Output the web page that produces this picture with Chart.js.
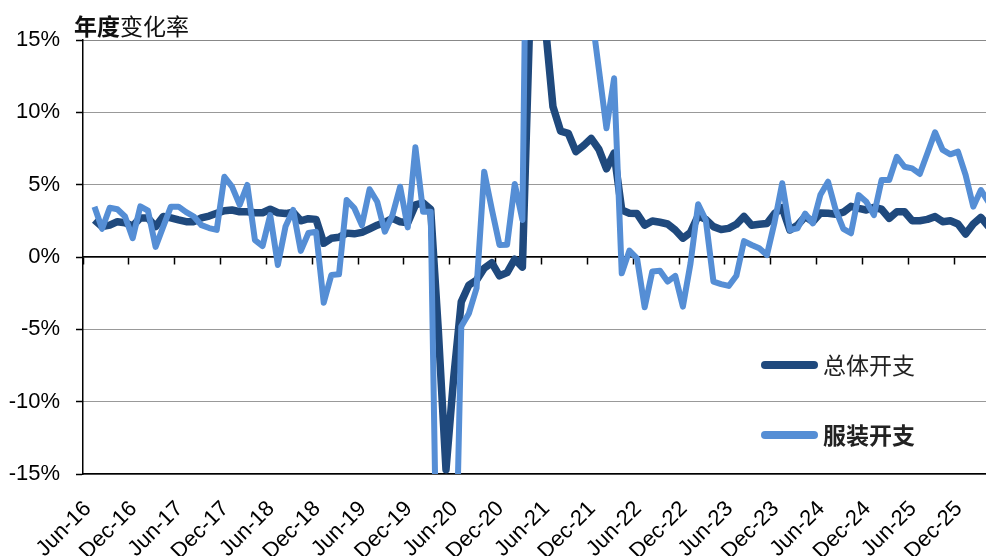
<!DOCTYPE html>
<html>
<head>
<meta charset="utf-8">
<script src="https://cdn.jsdelivr.net/npm/chart.js@4.4.1/dist/chart.umd.min.js"></script>
<style>
html, body { margin: 0; padding: 0; overflow: hidden; background: #fff; }
#grafica { display: block; width: 1000px; height: 556px; }
</style>
</head>
<body>
<canvas id="grafica" width="1000" height="556"></canvas>
<script>
// meses desde Jun-16 (120 categorias)
const nombresMes = ['Jan','Feb','Mar','Apr','May','Jun','Jul','Aug','Sep','Oct','Nov','Dec'];
const meses = [];
for (let i = 0; i < 120; i++) {
    const t = 5 + i;
    meses.push(nombresMes[t % 12] + '-' + (16 + Math.floor(t / 12)));
}

// 总体开支 (variacion anual, %)
const gastoTotal = [
    null, 2.56, 2.1, 2.2, 2.44, 2.37, 2.14, 2.7, 2.7, 2.1, 2.8, 2.7,
    2.56, 2.44, 2.44, 2.7, 2.83, 3.02, 3.2, 3.25, 3.13, 3.13, 3.06, 3.06,
    3.3, 3.06, 3.0, 3.1, 2.5, 2.65, 2.6, 0.95, 1.29, 1.36, 1.65, 1.6,
    1.7, 1.95, 2.2, 2.4, 2.67, 2.44, 2.37, 3.6, 3.75, 3.3, -5.1, -14.7,
    -8.4, -3.1, -1.94, -1.6, -0.78, -0.4, -1.3, -1.08, -0.15, -0.7, 17, 22,
    16, 10.4, 8.7, 8.55, 7.28, 7.7, 8.2, 7.45, 6.1, 7.17, 3.25, 3.03,
    3.0, 2.2, 2.49, 2.4, 2.28, 1.87, 1.3, 1.7, 2.85, 2.6, 2.1, 1.9,
    1.98, 2.26, 2.8, 2.2, 2.26, 2.32, 3.0, 3.4, 1.87, 2.2, 2.8, 2.44,
    3.04, 3.02, 2.95, 3.1, 3.5, 3.36, 3.25, 3.43, 3.3, 2.67, 3.13, 3.13,
    2.51, 2.51, 2.6, 2.79, 2.44, 2.51, 2.28, 1.59, 2.28, 2.74, 2.1, null
];

// 服装开支 (variacion anual, %)
const gastoRopa = [
    null, 3.48, 1.95, 3.4, 3.3, 2.8, 1.3, 3.5, 3.2, 0.7, 2.1, 3.48,
    3.48, 3.1, 2.8, 2.2, 2.0, 1.87, 5.55, 4.86, 3.6, 4.98, 1.17, 0.76,
    2.9, -0.55, 2.1, 3.25, 0.42, 1.66, 1.75, -3.16, -1.24, -1.2, 3.94, 3.39,
    2.2, 4.68, 3.82, 1.75, 2.9, 4.86, 2.05, 7.58, 3.13, 3.13, -29, -35,
    -29, -4.8, -3.9, -2.16, 5.9, 3.3, 0.83, 0.85, 5.05, 2.56, 45, 40,
    32, 27, 24, 22, 21, 20, 17.1, 13.0, 8.9, 12.35, -1.13, 0.44,
    -0.09, -3.48, -1.0, -0.95, -1.7, -1.3, -3.43, -0.44, 3.65, 2.56, -1.7, -1.87,
    -2.0, -1.3, 1.1, 0.83, 0.6, 0.14, 2.4, 5.1, 1.87, 1.98, 3.0, 2.32,
    4.3, 5.2, 3.25, 1.95, 1.64, 4.28, 3.82, 2.9, 5.32, 5.32, 6.93, 6.24,
    6.13, 5.74, 7.17, 8.62, 7.4, 7.1, 7.28, 5.67, 3.48, 4.63, 3.8, null
];

const fuente = '"Liberation Sans", Arial, sans-serif';
const fuenteCJK = '"Noto Sans CJK SC", sans-serif';

const leyendaInterna = {
    id: 'leyendaInterna',
    afterDraw(chart, args, opts) {
        const ctx = chart.ctx;
        ctx.save();
        chart.data.datasets.forEach((ds, i) => {
            const y = opts.filas[i];
            ctx.strokeStyle = ds.borderColor;
            ctx.lineWidth = 8;
            ctx.lineCap = 'round';
            ctx.beginPath();
            ctx.moveTo(opts.x + 4, y);
            ctx.lineTo(opts.x + 53, y);
            ctx.stroke();
            ctx.font = opts.pesos[i] + ' 23px ' + fuenteCJK;
            ctx.fillStyle = '#222';
            ctx.textBaseline = 'middle';
            ctx.textAlign = 'left';
            ctx.fillText(ds.label, opts.x + 62, y);
        });
        // titulo del eje
        ctx.font = 'bold 23px ' + fuenteCJK;
        ctx.fillStyle = '#111';
        ctx.textBaseline = 'middle';
        ctx.fillText('年度', 74, 26);
        const w = ctx.measureText('年度').width;
        ctx.font = 'normal 23px ' + fuenteCJK;
        ctx.fillText('变化率', 74 + w, 26);
        ctx.restore();
    }
};

const canvas = document.getElementById('grafica');
const context = canvas.getContext('2d');

const grafica = new Chart(context, {
    type: 'line',
    data: {
        labels: meses,
        datasets: [
            {
                label: '总体开支',
                data: gastoTotal,
                borderColor: '#1F497D',
                borderWidth: 7.5,
                order: 1
            },
            {
                label: '服装开支',
                data: gastoRopa,
                borderColor: '#558ED5',
                borderWidth: 6,
                order: 0
            }
        ]
    },
    options: {
        responsive: false,
        animation: false,
        layout: { padding: { top: 40, right: 0, bottom: 0, left: 0 } },
        elements: {
            point: { radius: 0 },
            line: { tension: 0, borderJoinStyle: 'round', borderCapStyle: 'butt' }
        },
        datasets: { line: { clip: 0, spanGaps: false } },
        plugins: {
            legend: { display: false },
            tooltip: { enabled: false },
            leyendaInterna: { x: 761, filas: [365, 435], pesos: ['normal', 'bold'] }
        },
        scales: {
            x: {
                type: 'category',
                offset: true,
                grid: { display: false },
                border: { display: true, color: '#000', width: 1.5 },
                ticks: {
                    autoSkip: false,
                    minRotation: 45,
                    maxRotation: 45,
                    padding: 14,
                    labelOffset: 1,
                    color: '#000',
                    font: { family: fuente, size: 22 },
                    callback: function (v, i) { return i % 6 === 0 ? this.getLabelForValue(v) : ''; }
                },
                afterFit: s => { s.height = 82; s.paddingLeft = 0; s.paddingRight = 0; }
            },
            x2: {
                type: 'category',
                position: { y: 0 },
                offset: true,
                grid: {
                    drawOnChartArea: false,
                    offset: true,
                    drawTicks: true,
                    tickLength: 7,
                    tickWidth: 1.5,
                    tickColor: c => (c.index % 6 === 0 ? '#000' : 'rgba(0,0,0,0)')
                },
                border: { display: true, color: '#000', width: 1.5 },
                ticks: { display: false },
                afterFit: s => { s.paddingLeft = 0; s.paddingRight = 0; }
            },
            y: {
                min: -15,
                max: 15,
                grid: {
                    color: c => (c.tick.value === 15 ? '#111' : '#333'),
                    lineWidth: 1,
                    tickLength: 7,
                    tickColor: '#000',
                    tickWidth: 1.5,
                    tickBorderDash: [10, 0]
                },
                border: { display: true, color: '#000', width: 1.5, dash: [1, 1] },
                ticks: {
                    stepSize: 5,
                    padding: 16,
                    color: '#000',
                    font: { family: fuente, size: 22 },
                    callback: v => v + '%'
                },
                afterFit: s => { s.width = 83; s.paddingTop = 0; s.paddingBottom = 0; }
            }
        }
    },
    plugins: [leyendaInterna]
});
</script>
</body>
</html>
